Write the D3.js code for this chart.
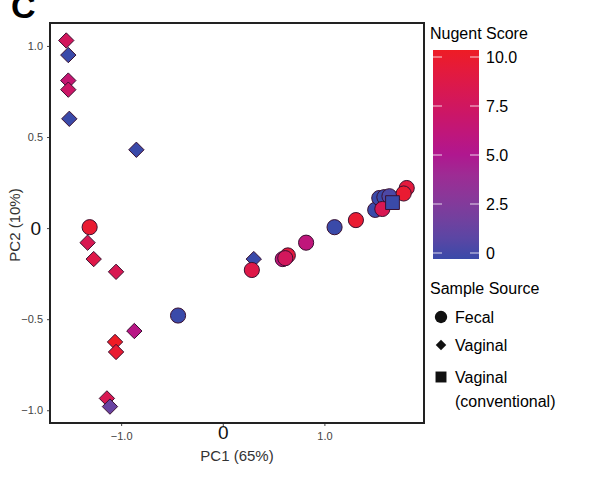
<!DOCTYPE html>
<html>
<head>
<meta charset="utf-8">
<script src="https://cdn.jsdelivr.net/npm/d3@7"></script>
<style>
  body { margin: 0; background: #fff; }
  text { font-family: "Liberation Sans", Arial, sans-serif; }
</style>
</head>
<body>
<svg class="pca"></svg>
<script>
const width = 589;
const height = 477;

// PCA scores
const pc1 = [-1.54, -1.52, -1.52, -1.52, -1.51, -0.85, -1.33, -1.27, -1.05, -0.87, -1.06, -1.05, -1.14, -1.11, 0.305,
  -1.31, -0.44, 0.286, 0.59, 0.64, 0.615, 0.82, 1.10, 1.31, 1.50, 1.54, 1.59, 1.64, 1.57, 1.81, 1.78, 1.67];
const pc2 = [1.03, 0.95, 0.81, 0.76, 0.60, 0.43, -0.08, -0.17, -0.24, -0.565, -0.625, -0.68, -0.935, -0.98, -0.17,
  0.005, -0.48, -0.23, -0.17, -0.15, -0.165, -0.08, 0.005, 0.044, 0.10, 0.165, 0.17, 0.175, 0.105, 0.22, 0.19, 0.14];
const nugent = [7.5, 0, 6.5, 7, 0, 0, 8, 8.5, 8, 5.5, 10, 9.5, 8, 1.5, 0,
  9.5, 0, 8.5, 6, 9, 7.5, 6, 0, 9.5, 0, 0, 0, 0.5, 8, 9, 9.5, 0];
const source = ["Vaginal", "Vaginal", "Vaginal", "Vaginal", "Vaginal", "Vaginal", "Vaginal", "Vaginal", "Vaginal",
  "Vaginal", "Vaginal", "Vaginal", "Vaginal", "Vaginal", "Vaginal",
  "Fecal", "Fecal", "Fecal", "Fecal", "Fecal", "Fecal", "Fecal", "Fecal", "Fecal", "Fecal", "Fecal", "Fecal", "Fecal",
  "Fecal", "Fecal", "Fecal", "Vaginal (conventional)"];

const xTicks = [-1, 0, 1];
const yTicks = [-1, -0.5, 0, 0.5, 1];
const scoreTicks = [0, 2.5, 5, 7.5, 10];
const sourceLabels = ["Fecal", "Vaginal", "Vaginal (conventional)"];

const points = pc1.map((d, i) => ({ x: d, y: pc2[i], score: nugent[i], src: source[i] }));

const svg = d3.select('.pca').attr('width', width).attr('height', height);
const plot = { left: 50, top: 23, right: 424, bottom: 423 };

const x = d3.scaleLinear().domain([-1.70, 1.98]).range([plot.left, plot.right]);
const y = d3.scaleLinear().domain([-1.07, 1.126]).range([plot.bottom, plot.top]);
const color = d3.scaleLinear().domain([0, 5, 10])
  .range(["#3a4aa9", "#b0178f", "#ee1c25"]).interpolate(d3.interpolateLab);

const shapes = {
  "Fecal": d3.symbolCircle,
  "Vaginal": d3.symbolDiamond2,
  "Vaginal (conventional)": d3.symbolSquare
};
const sizes = { "Fecal": 180, "Vaginal": 150, "Vaginal (conventional)": 190 };

// panel label
svg.append('text').attr('x', 11).attr('y', 18)
  .style('font-size', '34px').style('font-weight', 'bold').text('C');

// axes
const xAxis = svg.append('g').attr('transform', `translate(0,${plot.bottom})`)
  .call(d3.axisBottom(x).tickValues(xTicks).tickSize(3).tickPadding(6)
    .tickFormat(d => d === 0 ? '0' : d3.format('.1f')(d)));
const yAxis = svg.append('g').attr('transform', `translate(${plot.left},0)`)
  .call(d3.axisLeft(y).tickValues(yTicks).tickSize(3).tickPadding(4)
    .tickFormat(d => d === 0 ? '0' : d3.format('.1f')(d)));
[xAxis, yAxis].forEach(g => {
  g.select('.domain').remove();
  g.selectAll('.tick line').attr('stroke', '#444');
  g.selectAll('.tick text').attr('fill', '#444').style('font-size', '11px')
    .style('font-family', '"Liberation Sans", Arial, sans-serif');
  g.selectAll('.tick text').filter(d => d === 0).attr('fill', '#111').style('font-size', '19px');
});
xAxis.selectAll('.tick text').filter(d => d === 0).attr('y', 2);
yAxis.selectAll('.tick text').filter(d => d === 0).attr('dx', '-2');

// frame
svg.append('rect').attr('x', plot.left).attr('y', plot.top)
  .attr('width', plot.right - plot.left).attr('height', plot.bottom - plot.top)
  .attr('fill', 'none').attr('stroke', '#222').attr('stroke-width', 2);

// axis titles
svg.append('text').attr('x', 237).attr('y', 461).attr('text-anchor', 'middle')
  .style('font-size', '15px').attr('fill', '#333').text('PC1 (65%)');
svg.append('text').attr('transform', 'translate(20,225) rotate(-90)').attr('text-anchor', 'middle')
  .style('font-size', '15px').attr('fill', '#333').text('PC2 (10%)');

// points
svg.append('g').selectAll('path').data(points).enter().append('path')
  .attr('transform', d => `translate(${x(d.x)},${y(d.y)})`)
  .attr('d', d => d3.symbol().type(shapes[d.src]).size(sizes[d.src])())
  .attr('fill', d => color(d.score))
  .attr('stroke', '#3a1030').attr('stroke-width', 1);

// colour bar legend
const bar = { x: 433, y: 50, w: 46, h: 209 };
const barScale = d3.scaleLinear().domain([0, 10]).range([253, 57]);
svg.append('text').attr('x', 430).attr('y', 39).style('font-size', '16px').text('Nugent Score');
const grad = svg.append('defs').append('linearGradient').attr('id', 'nugent')
  .attr('x1', 0).attr('y1', 1).attr('x2', 0).attr('y2', 0);
d3.range(0, 10.01, 1).forEach(v => {
  grad.append('stop').attr('offset', v / 10).attr('stop-color', color(v));
});
svg.append('rect').attr('x', bar.x).attr('y', bar.y).attr('width', bar.w).attr('height', bar.h)
  .attr('fill', 'url(#nugent)');
const barTicks = svg.append('g');
scoreTicks.forEach(v => {
  barTicks.append('line').attr('x1', bar.x).attr('x2', bar.x + 9)
    .attr('y1', barScale(v)).attr('y2', barScale(v)).attr('stroke', '#fff').attr('stroke-opacity', 0.8);
  barTicks.append('line').attr('x1', bar.x + bar.w - 9).attr('x2', bar.x + bar.w)
    .attr('y1', barScale(v)).attr('y2', barScale(v)).attr('stroke', '#fff').attr('stroke-opacity', 0.8);
  barTicks.append('text').attr('x', 486).attr('y', barScale(v)).attr('dy', '0.36em')
    .style('font-size', '16px').text(v === 0 ? '0' : d3.format('.1f')(v));
});

// shape legend
svg.append('text').attr('x', 430).attr('y', 294).style('font-size', '16px').text('Sample Source');
const legendY = [317, 345, 377];
sourceLabels.forEach((s, i) => {
  svg.append('path').attr('transform', `translate(441,${legendY[i]})`)
    .attr('d', d3.symbol().type(shapes[s]).size(s === 'Vaginal' ? 70 : 120)())
    .attr('fill', '#111');
  const t = svg.append('text').attr('x', 455).attr('y', legendY[i]).attr('dy', '0.36em')
    .style('font-size', '16px');
  if (s === 'Vaginal (conventional)') {
    t.text('Vaginal');
    svg.append('text').attr('x', 455).attr('y', legendY[i] + 24).attr('dy', '0.36em')
      .style('font-size', '16px').text('(conventional)');
  } else {
    t.text(s);
  }
});
</script>
</body>
</html>
